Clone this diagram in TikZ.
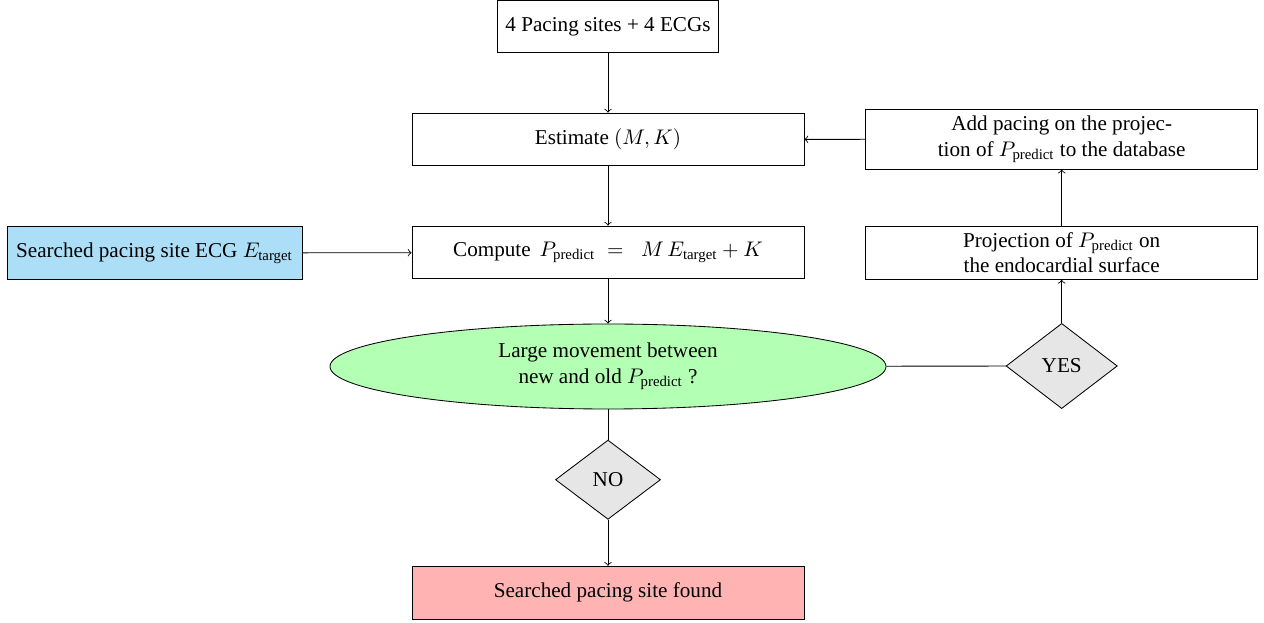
\documentclass[tikz,border=0pt]{standalone}
\usepackage{amsmath}
\usepackage{fontspec}
\setmainfont{Liberation Serif}
\usetikzlibrary{shapes.geometric}
\definecolor{boxblue}{RGB}{172,223,247}
\definecolor{boxgreen}{RGB}{179,255,179}
\definecolor{boxred}{RGB}{255,179,179}
\definecolor{boxgray}{RGB}{230,230,230}
\tikzset{
  stepbox/.style={draw, rectangle, inner sep=0pt, minimum width=185.4pt, minimum height=25pt, align=center, font=\normalsize},
  decide/.style={draw, diamond, fill=boxgray, inner sep=0pt, aspect=1.3},
  flow/.style={->},
}
\begin{document}
\begin{tikzpicture}[x=0.473pt, y=-0.473pt]
\useasboundingbox (0,0) rectangle (1264,623);
\node[stepbox, minimum width=104.5pt, minimum height=24.4pt] (top) at (608,26.3) {4 Pacing sites + 4 ECGs};
\node[stepbox] (est) at (608,139.5) {Estimate $(M,K)$};
\node[stepbox] (comp) at (608,252.5) {Compute $\,P_{\text{predict}}\;=\;\;M\,E_{\text{target}}+K$};
\node[stepbox, fill=boxblue, minimum width=139.5pt, minimum height=24.8pt] (ecg) at (154.5,253) {Searched pacing site ECG $E_{\text{target}}$};
\node[stepbox, minimum height=28.3pt] (add) at (1061.7,139.2) {Add pacing on the projec-\\tion of $P_{\text{predict}}$ to the database};
\node[stepbox, minimum height=25.2pt] (proj) at (1061.7,252.7) {Projection of $P_{\text{predict}}$ on\\the endocardial surface};
\node[draw, ellipse, fill=boxgreen, inner sep=0pt, minimum width=263pt, minimum height=40.2pt, align=center] (ell) at (608,366.5) {Large movement between\\new and old $P_{\text{predict}}$ ?};
\node[decide, minimum width=52.6pt, minimum height=40.3pt] (yes) at (1061.7,366) {YES};
\node[decide, minimum width=49.7pt, minimum height=37.5pt] (no) at (608,479.7) {NO};
\node[stepbox, fill=boxred] (found) at (608,592.7) {Searched pacing site found};
\draw[flow] (top) -- (est);
\draw[flow] (est) -- (comp);
\draw[flow] (ecg) -- (comp);
\draw[flow] (comp) -- (ell);
\draw (ell) -- (yes);
\draw[flow] (yes) -- (proj);
\draw[flow] (proj) -- (add);
\draw[flow] (add) -- (est);
\draw (ell) -- (no);
\draw[flow] (no) -- (found);
\end{tikzpicture}
\end{document}
